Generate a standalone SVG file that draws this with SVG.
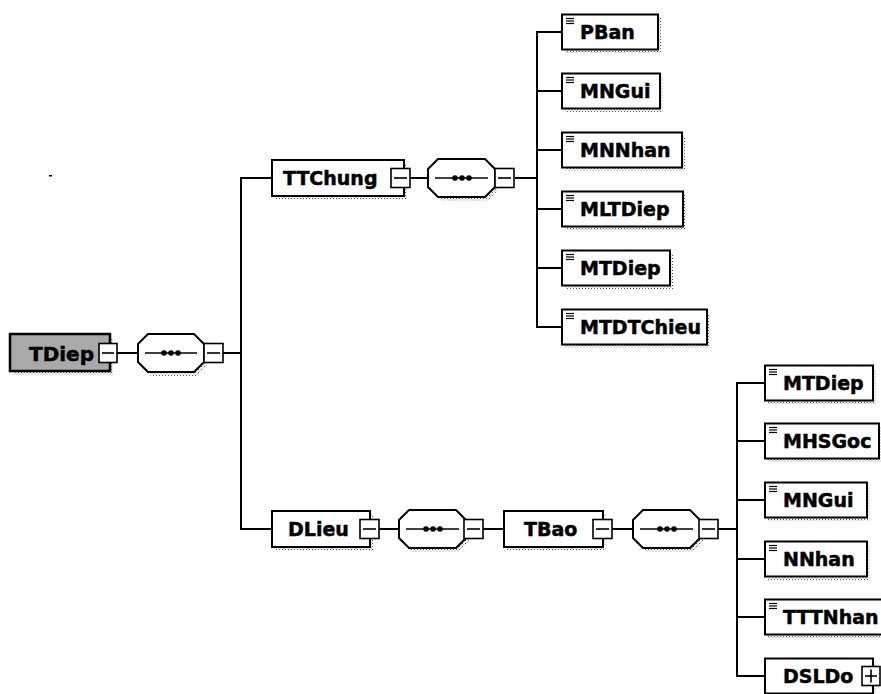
<svg xmlns="http://www.w3.org/2000/svg" width="881" height="694" viewBox="0 0 881 694">
<defs>
<pattern id="dots" width="3" height="3" patternUnits="userSpaceOnUse">
<rect x="0" y="0" width="1" height="1" fill="#555"/>
<rect x="1.5" y="1.5" width="1" height="1" fill="#888"/>
</pattern>
<g id="leafIcon">
<line x1="0" y1="0" x2="8" y2="0"/>
<line x1="0" y1="2.5" x2="8" y2="2.5"/>
<line x1="0" y1="5" x2="8" y2="5"/>
</g>
</defs>
<style>
.box{fill:#fff;stroke:#000;stroke-width:2}
.root{fill:#a9a9a9;stroke:#000;stroke-width:2.5}
.sh{fill:url(#dots);stroke:none}
.oct{fill:#fff;stroke:#000;stroke-width:2}
.sq{fill:#fff;stroke:#000;stroke-width:1.6}
.ln{stroke:#000;stroke-width:1.6;fill:none}
.con{stroke:#000;stroke-width:2;fill:none}
.ic{stroke:#000;stroke-width:1.2}
.t{font-family:"DejaVu Sans",Verdana,sans-serif;font-weight:bold;font-size:19px;fill:#000;stroke:#000;stroke-width:0.5}
</style>

<rect x="49" y="175" width="3" height="1.5" fill="#000"/>

<g id="connectors">
<line class="con" x1="117" y1="353" x2="138" y2="353"/>
<line class="con" x1="223" y1="353" x2="241" y2="353"/>
<line class="con" x1="241" y1="178" x2="241" y2="529"/>
<line class="con" x1="240" y1="178" x2="272" y2="178"/>
<line class="con" x1="240" y1="529" x2="272" y2="529"/>
<line class="con" x1="410" y1="178" x2="428" y2="178"/>
<line class="con" x1="515" y1="178" x2="537" y2="178"/>
<line class="con" x1="537" y1="32" x2="537" y2="327"/>
<line class="con" x1="536" y1="32" x2="562" y2="32"/>
<line class="con" x1="536" y1="91" x2="562" y2="91"/>
<line class="con" x1="536" y1="150" x2="562" y2="150"/>
<line class="con" x1="536" y1="209" x2="562" y2="209"/>
<line class="con" x1="536" y1="268" x2="562" y2="268"/>
<line class="con" x1="536" y1="327" x2="562" y2="327"/>
<line class="con" x1="378" y1="529" x2="399" y2="529"/>
<line class="con" x1="483" y1="529" x2="504" y2="529"/>
<line class="con" x1="612" y1="529" x2="633" y2="529"/>
<line class="con" x1="718" y1="529" x2="737" y2="529"/>
<line class="con" x1="737" y1="383" x2="737" y2="676"/>
<line class="con" x1="736" y1="383" x2="765" y2="383"/>
<line class="con" x1="736" y1="441" x2="765" y2="441"/>
<line class="con" x1="736" y1="500" x2="765" y2="500"/>
<line class="con" x1="736" y1="559" x2="765" y2="559"/>
<line class="con" x1="736" y1="617" x2="765" y2="617"/>
<line class="con" x1="736" y1="676" x2="765" y2="676"/>
</g>

<g id="TDiep">
<rect class="sh" x="13" y="338" width="100" height="37"/>
<rect class="root" x="10" y="334" width="100" height="37"/>
<text class="t" x="29" y="361" style="font-size:20px">TDiep</text>
<rect class="sq" x="99" y="343.5" width="18" height="19"/>
<line class="ln" x1="102" y1="353" x2="114" y2="353"/>
</g>
<g id="seq0">
<path class="sh" d="M151,338 H196 L207,348 V366 L197,376 H151 L141,366 V348 Z"/>
<path class="oct" d="M148,334 H194 L204,344 V362 L194,372 H148 L138,362 V344 Z"/>
<line class="ln" x1="145" y1="353" x2="197" y2="353"/>
<circle cx="164" cy="353" r="2.8"/><circle cx="171" cy="353" r="2.8"/><circle cx="178" cy="353" r="2.8"/>
<rect class="sq" x="204" y="343.5" width="19" height="19"/>
<line class="ln" x1="207" y1="353" x2="220" y2="353"/>
</g>

<g id="TTChung">
<rect class="sh" x="275" y="163" width="132" height="36"/>
<rect class="box" x="272" y="160" width="132" height="36"/>
<text class="t" x="283" y="185">TTChung</text>
<rect class="sq" x="391" y="168.5" width="19" height="19"/>
<line class="ln" x1="394" y1="178" x2="407" y2="178"/>
</g>
<g id="seq1">
<path class="sh" d="M441,162 H488 L498,172 V190 L488,201 H441 L431,190 V172 Z"/>
<path class="oct" d="M438,159 H485 L495,169 V187 L485,197 H438 L428,187 V169 Z"/>
<line class="ln" x1="435" y1="178" x2="488" y2="178"/>
<circle cx="455" cy="178" r="2.8"/><circle cx="462" cy="178" r="2.8"/><circle cx="469" cy="178" r="2.8"/>
<rect class="sq" x="495" y="168.5" width="19" height="19"/>
<line class="ln" x1="498" y1="178" x2="511" y2="178"/>
</g>

<g id="PBan">
<rect class="sh" x="565" y="18" width="96" height="35"/>
<rect class="box" x="562" y="14.5" width="96" height="35"/>
<use href="#leafIcon" class="ic" x="566" y="18.5"/>
<text class="t" x="580" y="39">PBan</text>
</g>
<g id="MNGui1">
<rect class="sh" x="565" y="77" width="98" height="35"/>
<rect class="box" x="562" y="73.5" width="98" height="35"/>
<use href="#leafIcon" class="ic" x="566" y="77.5"/>
<text class="t" x="580" y="98">MNGui</text>
</g>
<g id="MNNhan">
<rect class="sh" x="565" y="136" width="120" height="35"/>
<rect class="box" x="562" y="132.5" width="120" height="35"/>
<use href="#leafIcon" class="ic" x="566" y="136.5"/>
<text class="t" x="580" y="157">MNNhan</text>
</g>
<g id="MLTDiep">
<rect class="sh" x="565" y="195" width="121" height="35"/>
<rect class="box" x="562" y="191.5" width="121" height="35"/>
<use href="#leafIcon" class="ic" x="566" y="195.5"/>
<text class="t" x="580" y="216">MLTDiep</text>
</g>
<g id="MTDiep1">
<rect class="sh" x="565" y="254" width="108" height="35"/>
<rect class="box" x="562" y="250.5" width="108" height="35"/>
<use href="#leafIcon" class="ic" x="566" y="254.5"/>
<text class="t" x="580" y="275">MTDiep</text>
</g>
<g id="MTDTChieu">
<rect class="sh" x="565" y="313" width="145" height="35"/>
<rect class="box" x="562" y="309.5" width="145" height="35"/>
<use href="#leafIcon" class="ic" x="566" y="313.5"/>
<text class="t" x="580" y="334">MTDTChieu</text>
</g>

<g id="DLieu">
<rect class="sh" x="275" y="514" width="98" height="36"/>
<rect class="box" x="272" y="511" width="98" height="36"/>
<text class="t" x="288" y="536">DLieu</text>
<rect class="sq" x="360" y="519.5" width="19" height="19"/>
<line class="ln" x1="363" y1="529" x2="376" y2="529"/>
</g>
<g id="seq2">
<path class="sh" d="M412,513 H459 L469,523 V541 L459,552 H412 L402,541 V523 Z"/>
<path class="oct" d="M409,510 H456 L466,520 V538 L456,548 H409 L399,538 V520 Z"/>
<line class="ln" x1="406" y1="529" x2="459" y2="529"/>
<circle cx="426" cy="529" r="2.8"/><circle cx="433" cy="529" r="2.8"/><circle cx="440" cy="529" r="2.8"/>
<rect class="sq" x="464" y="519.5" width="19" height="19"/>
<line class="ln" x1="467" y1="529" x2="480" y2="529"/>
</g>

<g id="TBao">
<rect class="sh" x="507" y="514" width="99" height="36"/>
<rect class="box" x="504" y="511" width="99" height="36"/>
<text class="t" x="524" y="536">TBao</text>
<rect class="sq" x="593" y="519.5" width="19" height="19"/>
<line class="ln" x1="596" y1="529" x2="609" y2="529"/>
</g>
<g id="seq3">
<path class="sh" d="M646,513 H693 L703,523 V541 L693,552 H646 L636,541 V523 Z"/>
<path class="oct" d="M643,510 H690 L700,520 V538 L690,548 H643 L633,538 V520 Z"/>
<line class="ln" x1="640" y1="529" x2="693" y2="529"/>
<circle cx="660" cy="529" r="2.8"/><circle cx="667" cy="529" r="2.8"/><circle cx="674" cy="529" r="2.8"/>
<rect class="sq" x="699" y="519.5" width="19" height="19"/>
<line class="ln" x1="702" y1="529" x2="715" y2="529"/>
</g>

<g id="MTDiep2">
<rect class="sh" x="768" y="369" width="108" height="35"/>
<rect class="box" x="765" y="365.5" width="108" height="35"/>
<use href="#leafIcon" class="ic" x="769" y="369.5"/>
<text class="t" x="783" y="390">MTDiep</text>
</g>
<g id="MHSGoc">
<rect class="sh" x="768" y="427" width="114" height="35"/>
<rect class="box" x="765" y="423.5" width="114" height="35"/>
<use href="#leafIcon" class="ic" x="769" y="427.5"/>
<text class="t" x="783" y="448">MHSGoc</text>
</g>
<g id="MNGui2">
<rect class="sh" x="768" y="486" width="102" height="35"/>
<rect class="box" x="765" y="482.5" width="102" height="35"/>
<use href="#leafIcon" class="ic" x="769" y="486.5"/>
<text class="t" x="783" y="507">MNGui</text>
</g>
<g id="NNhan">
<rect class="sh" x="768" y="545" width="102" height="35"/>
<rect class="box" x="765" y="541.5" width="102" height="35"/>
<use href="#leafIcon" class="ic" x="769" y="545.5"/>
<text class="t" x="783" y="566">NNhan</text>
</g>
<g id="TTTNhan">
<rect class="sh" x="768" y="603" width="122" height="35"/>
<rect class="box" x="765" y="599.5" width="122" height="35"/>
<use href="#leafIcon" class="ic" x="769" y="603.5"/>
<text class="t" x="783" y="624">TTTNhan</text>
</g>
<g id="DSLDo">
<rect class="sh" x="768" y="662" width="108" height="35"/>
<rect class="box" x="765" y="658.5" width="108" height="35"/>
<text class="t" x="783" y="683">DSLDo</text>
<rect class="sq" x="862" y="666.5" width="18" height="19"/>
<line class="ln" x1="865" y1="676" x2="877" y2="676"/>
<line class="ln" x1="871" y1="669.5" x2="871" y2="682.5"/>
</g>
</svg>
